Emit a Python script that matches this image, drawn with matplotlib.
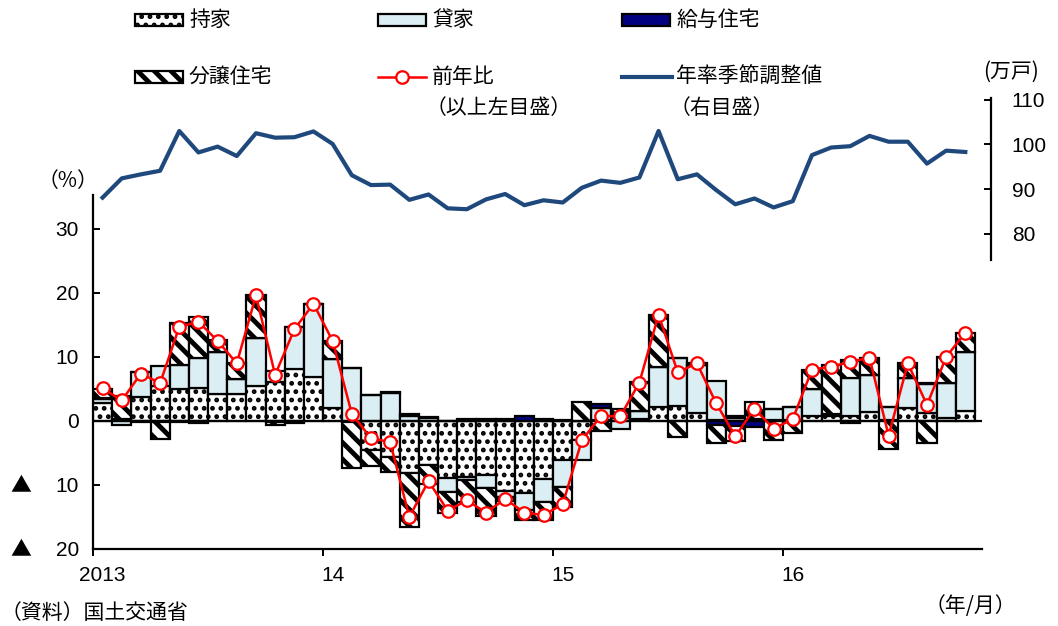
import numpy as np
import matplotlib
matplotlib.use("Agg")
import matplotlib.pyplot as plt
from matplotlib.patches import Rectangle
from matplotlib.lines import Line2D

plt.rcParams['font.family'] = ['Liberation Sans', 'Noto Sans CJK JP', 'DejaVu Sans']

# 2013/1 .. 2016/10, monthly
months = np.arange(46)
year_ticks = [-0.5, 11.5, 23.5, 35.5]
year_label_pos = [0, 12, 24, 36]
year_labels = ['2013', '14', '15', '16']

# contributions to yoy change (%pt)
owner = [2.8, 0.3, 3.7, 5.4, 5.0, 5.2, 4.2, 4.2, 5.5, 6.1, 8.1, 6.9,
         2.1, -0.2, -4.5, -5.6, -8.2, -6.9, -8.9, -8.7, -8.5, -10.9, -11.3, -9.1,
         -6.1, -3.0, 0.2, 0.4, 0.3, 2.2, 2.3, 1.2, 0.2, 0.4, 0.3, 0.1,
         0.1, 0.7, 0.8, 0.7, 1.4, 0.2, 2.0, 1.2, 0.4, 1.5]
rental = [0.6, -0.7, 3.9, 3.2, 3.8, 4.7, 6.5, 2.4, 7.4, 1.7, 6.5, 11.4,
          7.5, 8.3, 4.1, 4.3, 0.8, 0.5, -2.2, -0.6, -2.0, -0.9, -2.6, -3.5,
          -4.2, -3.1, 1.8, -1.3, 1.3, 6.3, 7.6, 7.6, 6.1, 0.4, 0.0, 1.7,
          2.1, 4.3, 0.3, 6.0, 5.7, 2.0, 4.7, 4.5, 5.6, 9.3]
company = [0.2, 0.0, 0.0, -0.2, -0.2, -0.3, 0.0, 0.0, 0.0, -0.1, 0.0, 0.0,
           0.0, 0.0, 0.0, 0.3, 0.3, 0.1, 0.0, 0.3, 0.3, 0.3, 0.7, 0.3,
           0.1, 0.0, 0.6, 0.3, 0.0, 0.0, 0.0, 0.0, -0.6, -0.8, -1.0, 0.0,
           0.0, 0.0, 0.0, -0.3, 0.0, 0.0, 0.0, 0.3, 0.0, 0.0]
condo = [1.4, 3.6, -0.2, -2.6, 6.5, 6.3, 2.0, 2.5, 6.8, -0.6, -0.3, 0.0,
         2.9, -7.1, -2.6, -2.3, -8.3, -2.9, -3.2, -3.4, -4.3, -0.7, -1.5, -2.8,
         -3.1, 3.0, -1.6, 1.2, 4.5, 8.1, -2.5, 0.2, -2.9, -2.4, 2.6, -3.0,
         -1.9, 3.0, 7.7, 2.8, 2.8, -4.4, 2.3, -3.5, 4.0, 3.0]
yoy = [5.1, 3.2, 7.4, 5.9, 14.7, 15.5, 12.5, 9.0, 19.6, 7.2, 14.3, 18.3,
       12.5, 1.1, -2.7, -3.3, -15.0, -9.4, -14.0, -12.4, -14.3, -12.2, -14.3, -14.7,
       -13.0, -3.0, 0.8, 0.7, 6.0, 16.6, 7.6, 9.0, 2.8, -2.4, 1.9, -1.2,
       0.3, 8.0, 8.5, 9.2, 9.9, -2.3, 9.0, 2.5, 10.0, 13.8]
# seasonally adjusted annual rate (10k units)
annual = [88.1, 92.4, 93.3, 94.1, 103.0, 98.2, 99.5, 97.4, 102.5, 101.5, 101.6, 102.9,
          100.1, 93.1, 90.9, 91.0, 87.6, 88.8, 85.7, 85.5, 87.7, 88.9, 86.4, 87.5,
          87.0, 90.3, 91.9, 91.4, 92.6, 103.0, 92.2, 93.3, 89.8, 86.6, 87.9, 85.9,
          87.3, 97.6, 99.3, 99.6, 101.9, 100.6, 100.6, 95.7, 98.6, 98.3]

W, H = 1058, 626
fig = plt.figure(figsize=(W / 100, H / 100), dpi=100)


def fx(px):
    return px / W


def fy(py):
    return 1 - py / H


CJK = ['Noto Sans CJK JP', 'DejaVu Sans']

blue_fill = '#DAEEF3'
navy = '#000080'
line_blue = '#1F497D'
DOT_LW = 2.2
STRIPE_LW = 3.5

styles = [
    (owner, dict(facecolor='white', hatch='..'), DOT_LW),
    (rental, dict(facecolor=blue_fill), 1.0),
    (company, dict(facecolor=navy), 1.0),
    (condo, dict(facecolor='white', hatch='\\\\'), STRIPE_LW),
]

ax = fig.add_axes([fx(93), fy(549), fx(982) - fx(93), fy(97) - fy(549)])

pos_base = np.zeros(len(months))
neg_base = np.zeros(len(months))
for vals, kw, hlw in styles:
    v = np.array(vals, dtype=float)
    base = np.where(v >= 0, pos_base, neg_base)
    with plt.rc_context({'hatch.linewidth': hlw}):
        bars = ax.bar(months, v, bottom=base, width=1.0, edgecolor='black',
                      linewidth=1.6, zorder=2, **kw)
    for b in bars:
        if hasattr(b, 'set_hatch_linewidth'):
            b.set_hatch_linewidth(hlw)
    pos_base += np.clip(v, 0, None)
    neg_base += np.clip(v, None, 0)

ax.axhline(0, color='black', lw=1.6, zorder=3)
ax.plot(months, yoy, color='red', lw=1.8, marker='o', ms=9,
        mfc='white', mec='red', mew=1.6, zorder=4)

ax.set_xlim(-0.5, 45.87)
ax.set_ylim(-20, 50.6)
for s in ['top', 'right']:
    ax.spines[s].set_visible(False)
ax.spines['left'].set_bounds(-20, 35.3)
ax.spines['left'].set_linewidth(1.6)
ax.spines['bottom'].set_linewidth(1.6)

ax.set_yticks([-20, -10, 0, 10, 20, 30])
ax.set_yticklabels(['20', '10', '0', '10', '20', '30'])
ax.tick_params(axis='y', direction='in', length=5, width=1.4, pad=10,
               labelsize=15)
# negative marks drawn to the far left, as in the source
for val in [-10, -20]:
    ax.annotate('▲', xy=(0, val), xycoords=('axes fraction', 'data'),
                xytext=(21 - 93, 0), textcoords='offset pixels',
                family=CJK, fontsize=15, ha='center', va='center')

ax.set_xticks(year_ticks)
ax.set_xticklabels([])
ax.tick_params(axis='x', which='major', direction='out', length=5, width=1.4)
ax.set_xticks(year_label_pos, minor=True)
ax.set_xticklabels(year_labels, minor=True)
ax.tick_params(axis='x', which='minor', length=0, pad=12, labelsize=15)

# right axis: annual rate
ax2 = ax.twinx()
ax2.plot(months, annual, color=line_blue, lw=3, zorder=3)
ax2.set_ylim(9.5, 110.6)
for s in ['top', 'left', 'bottom']:
    ax2.spines[s].set_visible(False)
ax2.spines['right'].set_position(('outward', 6.5))
ax2.spines['right'].set_bounds(74.1, 110.4)
ax2.spines['right'].set_linewidth(1.6)
ax2.set_yticks([80, 90, 100, 110])
ax2.tick_params(axis='y', direction='in', length=5, width=1.4, pad=15,
                labelsize=15)

# texts
FS = 15
fig.text(fx(68), fy(181), '（%）', family=CJK, fontsize=FS, ha='center', va='center')
fig.text(fx(1011), fy(72), '(万戸)', family=CJK, fontsize=FS, ha='center', va='center')
fig.text(fx(970), fy(606), '（年/月）', family=CJK, fontsize=FS, ha='center', va='center')
fig.text(fx(1), fy(602), '（資料）国土交通省', family=CJK, fontsize=FS, ha='left', va='top')


# legend
def legend_box(x0, y0, label, hlw=1.0, **kw):
    with plt.rc_context({'hatch.linewidth': hlw}):
        r = Rectangle((fx(x0), fy(y0 + 12)), fx(48), 12 / H, transform=fig.transFigure,
                      edgecolor='black', linewidth=1.6, **kw)
    if hasattr(r, 'set_hatch_linewidth'):
        r.set_hatch_linewidth(hlw)
    fig.patches.append(r)
    fig.text(fx(x0 + 54), fy(y0 + 6), label, family=CJK, fontsize=FS,
             ha='left', va='center')


legend_box(135, 14, '持家', hlw=DOT_LW, facecolor='white', hatch='..')
legend_box(378, 14, '貸家', facecolor=blue_fill)
legend_box(622, 14, '給与住宅', facecolor=navy)
legend_box(135, 71, '分譲住宅', hlw=STRIPE_LW, facecolor='white', hatch='\\\\')

fig.lines.append(Line2D([fx(378), fx(426)], [fy(77), fy(77)], transform=fig.transFigure,
                        color='red', lw=1.8))
fig.lines.append(Line2D([fx(402)], [fy(77)], transform=fig.transFigure,
                        color='red', lw=0, marker='o', ms=9, mfc='white', mec='red', mew=1.6))
fig.text(fx(432), fy(77), '前年比', family=CJK, fontsize=FS, ha='left', va='center')
fig.text(fx(426), fy(108), '（以上左目盛）', family=CJK, fontsize=FS, ha='left', va='center')

fig.lines.append(Line2D([fx(622), fx(672)], [fy(77), fy(77)], transform=fig.transFigure,
                        color=line_blue, lw=3))
fig.text(fx(676), fy(77), '年率季節調整値', family=CJK, fontsize=FS, ha='left', va='center')
fig.text(fx(670), fy(108), '（右目盛）', family=CJK, fontsize=FS, ha='left', va='center')

fig.savefig('out.png', dpi=100)
